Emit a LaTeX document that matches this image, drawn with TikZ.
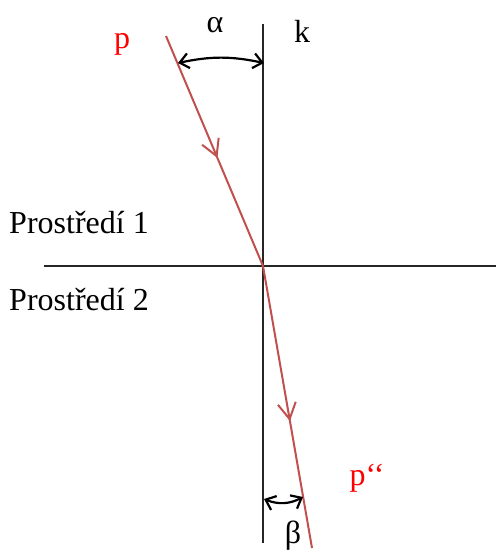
\documentclass[tikz,border=0pt]{standalone}
\usepackage{fontspec}
\setmainfont{Liberation Serif}
\usepackage{xcolor}
\usetikzlibrary{arrows.meta,decorations.markings}

\definecolor{raycol}{RGB}{192,80,77}

\begin{document}
\begin{tikzpicture}[x=1pt,y=-1pt,
  lbl/.style={font=\fontsize{32}{38}\selectfont, inner sep=0pt},
  ray/.style={raycol, line width=2pt},
  axis/.style={black!85, line width=2.6pt},
  angarrow/.style={{Straight Barb[length=9pt,width=15pt]}-{Straight Barb[length=9pt,width=15pt]}, line width=2.2pt},
  midarrow/.style={postaction={decorate}, decoration={markings,
    mark=at position #1 with {\arrow{Straight Barb[length=16pt,width=18pt,line width=2pt]}}}}
]
\useasboundingbox (0,0) rectangle (496,550);

% points
\coordinate (ktop) at (263,24);
\coordinate (kbot) at (263,543);
\coordinate (left) at (44,266);
\coordinate (right) at (496,266);
\coordinate (O) at (263,266);
\coordinate (pstart) at (166,36);
\coordinate (pend) at (312,548);

% normal and boundary
\draw[axis] (ktop) -- (kbot);
\draw[axis] (left) -- (right);

% rays
\draw[ray, midarrow=0.53] (pstart) -- (O);
\draw[ray, midarrow=0.55] (O) -- (pend);

% angles
\coordinate (a1) at (178,63);
\coordinate (a2) at (264,63);
\draw[angarrow] (a1) to[bend left=12] (a2);
\coordinate (b1) at (264,499);
\coordinate (b2) at (303,497);
\draw[angarrow] (b1) to[bend right=25] (b2);

% labels
\node[lbl] (alpha) at (215,25) {α};
\node[lbl] (k) at (302,31) {k};
\node[lbl, red] (p) at (122,44) {p};
\node[lbl, red] (pp) at (367,478) {p‘‘};
\node[lbl] (beta) at (293,536) {β};
\node[lbl] (m1) at (79,223) {Prostředí 1};
\node[lbl] (m2) at (79,300) {Prostředí 2};

\end{tikzpicture}
\end{document}
